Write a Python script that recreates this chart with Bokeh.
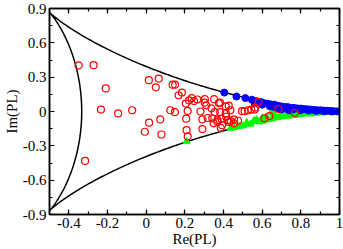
import numpy as np
from bokeh.plotting import figure
from bokeh.models import LinearAxis, SingleIntervalTicker, CustomJSTickFormatter, Range1d
from bokeh.embed import file_html
from bokeh.resources import INLINE

# Red open circles (Re, Im)
red_x = [-0.349, -0.272, -0.209, -0.234, -0.145, -0.072, 0.014, 0.065, 0.050, 0.015,
         0.073, -0.007, -0.316, 0.079, 0.137, 0.150, 0.168, 0.185, 0.125, 0.149,
         0.215, 0.207, 0.209, 0.215, 0.205, 0.222, 0.236, 0.248, 0.265, 0.281,
         0.291, 0.291, 0.303, 0.311, 0.304, 0.352, 0.376, 0.383, 0.338, 0.318,
         0.342, 0.369, 0.390, 0.414, 0.355, 0.383, 0.412, 0.349, 0.369, 0.393,
         0.386, 0.412, 0.427, 0.421, 0.429, 0.436, 0.437, 0.455, 0.475, 0.455,
         0.496, 0.509, 0.527, 0.544, 0.561, 0.564, 0.581, 0.612, 0.637, 0.684,
         0.769]
red_y = [0.403, 0.405, 0.202, 0.017, -0.017, 0.011, 0.274, 0.288, 0.211, -0.098,
         -0.069, -0.177, -0.432, -0.201, 0.234, 0.234, 0.142, 0.165, 0.011, -0.006,
         0.005, -0.063, -0.163, -0.218, 0.069, 0.097, 0.117, 0.091, 0.105, 0.000,
         -0.069, -0.154, 0.077, 0.054, 0.108, 0.108, 0.074, 0.077, 0.028, -0.057,
         -0.060, -0.075, -0.063, -0.046, -0.006, -0.006, -0.017, -0.103, -0.092, -0.120,
         -0.143, 0.045, 0.051, -0.075, -0.092, 0.011, -0.083, -0.069, -0.081, -0.103,
         0.003, 0.003, 0.011, 0.017, 0.017, 0.034, 0.082, -0.060, -0.040, 0.022,
         -0.012]

# Blue filled circles
blue_x = [0.404, 0.467, 0.513, 0.547, 0.569, 0.595, 0.612, 0.629, 0.646, 0.663,
          0.680, 0.697, 0.715, 0.732, 0.750, 0.766, 0.783, 0.800, 0.817, 0.834,
          0.851, 0.868, 0.885, 0.903, 0.920, 0.937, 0.955, 0.971, 0.990,
          0.560, 0.600, 0.640, 0.660, 0.680, 0.700, 0.720, 0.740, 0.760, 0.800,
          0.840, 0.880, 0.920, 0.960]
blue_y = [0.165, 0.131, 0.117, 0.103, 0.091, 0.082, 0.072, 0.069, 0.062, 0.060,
          0.050, 0.045, 0.040, 0.039, 0.033, 0.031, 0.027, 0.026, 0.022, 0.020,
          0.017, 0.014, 0.012, 0.011, 0.008, 0.007, 0.005, 0.003, 0.001,
          0.080, 0.060, 0.045, 0.040, 0.030, 0.020, 0.025, 0.010, 0.018, 0.012,
          0.008, 0.005, 0.002, 0.000]

# Green filled triangles
green_x = [0.209, 0.437, 0.455, 0.480, 0.500, 0.520, 0.540, 0.554, 0.571, 0.585,
           0.600, 0.615, 0.630, 0.648, 0.650, 0.665, 0.680, 0.682, 0.695, 0.710,
           0.725, 0.740, 0.755, 0.770, 0.785, 0.800, 0.805, 0.820, 0.835, 0.850,
           0.865, 0.880, 0.895, 0.910, 0.925, 0.940, 0.955, 0.970, 0.985, 1.000,
           0.600, 0.560, 0.520, 0.700, 0.750, 0.660, 0.620]
green_y = [-0.263, -0.146, -0.140, -0.130, -0.125, -0.115, -0.110, -0.086, -0.072, -0.090,
           -0.085, -0.075, -0.070, -0.006, -0.065, -0.050, -0.055, 0.028, -0.030, -0.045,
           -0.035, -0.040, -0.020, -0.035, -0.015, -0.028, 0.000, -0.020, -0.010, -0.022,
           -0.005, -0.015, -0.008, -0.012, -0.004, -0.008, -0.003, -0.005, -0.002, 0.000,
           -0.060, -0.080, -0.095, -0.020, -0.010, -0.020, -0.050]

# SU(3) Polyakov-loop domain boundary (deltoid), parameter
theta = np.linspace(0, 2 * np.pi, 721)
bx = (2 * np.cos(theta) + np.cos(2 * theta)) / 3
by = (2 * np.sin(theta) - np.sin(2 * theta)) / 3

FONT = "Liberation Serif"

p = figure(width=343, height=249, output_backend="svg", toolbar_location=None,
           x_range=Range1d(-0.5, 1.0), y_range=Range1d(-0.9, 0.9),
           min_border_left=47, min_border_right=4, min_border_top=8, min_border_bottom=33)
p.grid.visible = False
p.outline_line_color = "black"
p.outline_line_width = 1.5
p.background_fill_color = "white"
p.border_fill_color = "white"

fmt = CustomJSTickFormatter(code="return Number(tick.toFixed(2)).toString();")
for ax, interval in ((p.xaxis[0], 0.2), (p.yaxis[0], 0.3)):
    ax.ticker = SingleIntervalTicker(interval=interval, num_minor_ticks=2)
    ax.formatter = fmt
    ax.major_tick_in = 5
    ax.major_tick_out = 0
    ax.minor_tick_in = 3
    ax.minor_tick_out = 0
    ax.axis_line_width = 1.5
    ax.major_tick_line_width = 1.2
    ax.minor_tick_line_width = 1.2
    ax.major_label_text_font = FONT
    ax.major_label_text_font_size = "15px"
    ax.major_label_text_color = "black"
    ax.axis_label_text_font = FONT
    ax.axis_label_text_font_size = "15px"
    ax.axis_label_text_font_style = "normal"
    ax.axis_label_text_color = "black"
    ax.major_label_standoff = 3
    ax.axis_label_standoff = 0

p.xaxis[0].axis_label = "Re(PL)"
p.yaxis[0].axis_label = "Im(PL)"

blank = CustomJSTickFormatter(code="return '';")
for loc, interval in (("above", 0.2), ("right", 0.3)):
    ax = LinearAxis(ticker=SingleIntervalTicker(interval=interval, num_minor_ticks=2),
                    formatter=blank)
    ax.major_tick_in = 5
    ax.major_tick_out = 0
    ax.minor_tick_in = 3
    ax.minor_tick_out = 0
    ax.axis_line_width = 1.5
    ax.major_tick_line_width = 1.2
    ax.minor_tick_line_width = 1.2
    ax.major_label_standoff = 0
    p.add_layout(ax, loc)

p.line(bx, by, line_color="black", line_width=1.5)

p.scatter(green_x, green_y, marker="triangle", size=7, fill_color="#00ff00",
          line_color="#00ff00")
p.scatter(blue_x, blue_y, marker="circle", size=7, fill_color="#0000ff",
          line_color="#0000ff")
p.scatter(red_x, red_y, marker="circle", size=7, fill_color=None,
          line_color="#ff0000", line_width=1.2)

open("out.html", "w").write(file_html(p, INLINE))
